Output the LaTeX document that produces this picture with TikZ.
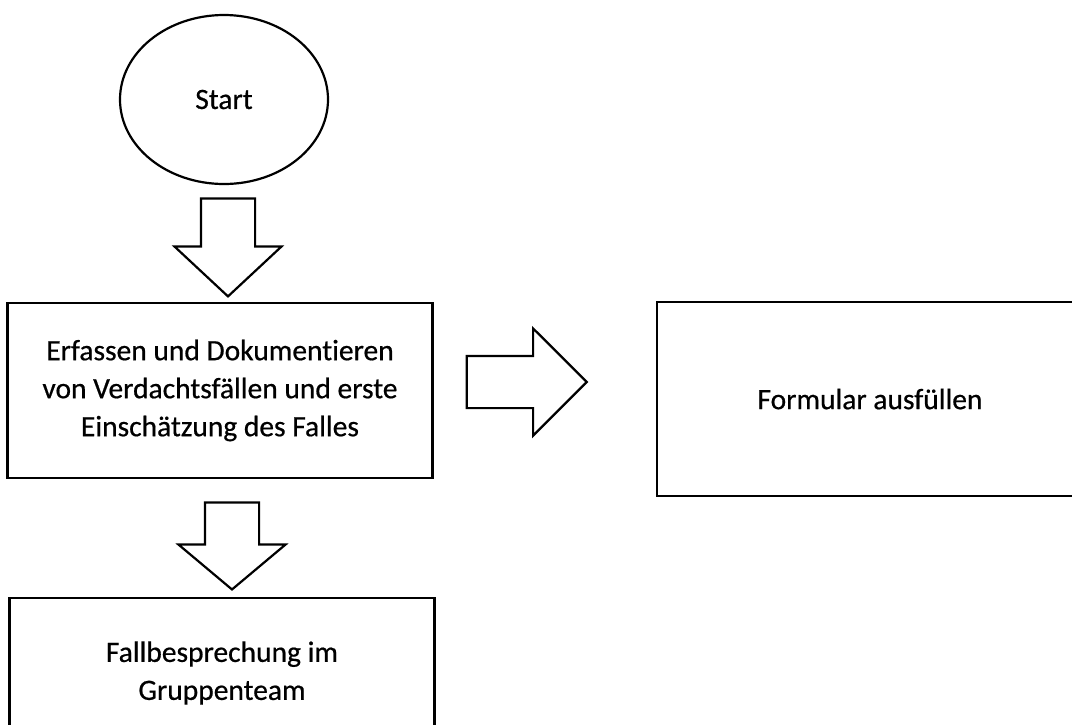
\documentclass[tikz,border=0pt]{standalone}
\usepackage{fontspec}
\setmainfont{Carlito}[FakeBold=0.6, Ligatures=NoCommon]
\usetikzlibrary{shapes.geometric,shapes.arrows}
\tikzset{
  txt/.style={font=\fontsize{29.5}{38}\selectfont, align=center},
  term/.style={draw, ellipse, txt, line width=2.2pt, inner sep=0pt, minimum width=208pt, minimum height=169pt},
  proc/.style={draw, rectangle, txt, line width=2.2pt, inner sep=0pt, minimum width=425pt},
  pfeil/.style={draw, single arrow, line width=2.2pt, inner xsep=0pt, inner ysep=26pt, minimum width=105pt, single arrow head extend=26.5pt},
}
\begin{document}
\begin{tikzpicture}[x=1pt, y=1pt]
  \useasboundingbox (0,0) rectangle (1072,-724);
  \clip (0,0) rectangle (1072,-724);
  % Ablauf
  \node[term] (start) at (224,-99.5) {Start};
  \node[proc, minimum height=175pt] (erfassen) at (220,-390.5)
    {Erfassen und Dokumentieren\\ von Verdachtsfällen und erste\\ Einschätzung des Falles};
  \node[proc, minimum width=426pt, minimum height=194pt] (formular) at (870,-399) {Formular ausfüllen};
  \node[proc, minimum height=150pt] (fallbespr) at (222,-673)
    {Fallbesprechung im\\ Gruppenteam};
  % Blockpfeile
  \node[pfeil, rotate=-90, minimum height=98pt, single arrow tip angle=94, anchor=tip]
    (pfeilA) at ([xshift=8pt,yshift=4pt]erfassen.north) {};
  \node[pfeil, inner ysep=25pt, minimum height=120pt, single arrow head extend=27.5pt, single arrow tip angle=90, anchor=tail]
    (pfeilB) at ([xshift=32pt,yshift=8.5pt]erfassen.east) {};
  \node[pfeil, rotate=-90, minimum height=87pt, single arrow tip angle=100, anchor=tip]
    (pfeilC) at ([xshift=10pt,yshift=6pt]fallbespr.north) {};
\end{tikzpicture}
\end{document}
